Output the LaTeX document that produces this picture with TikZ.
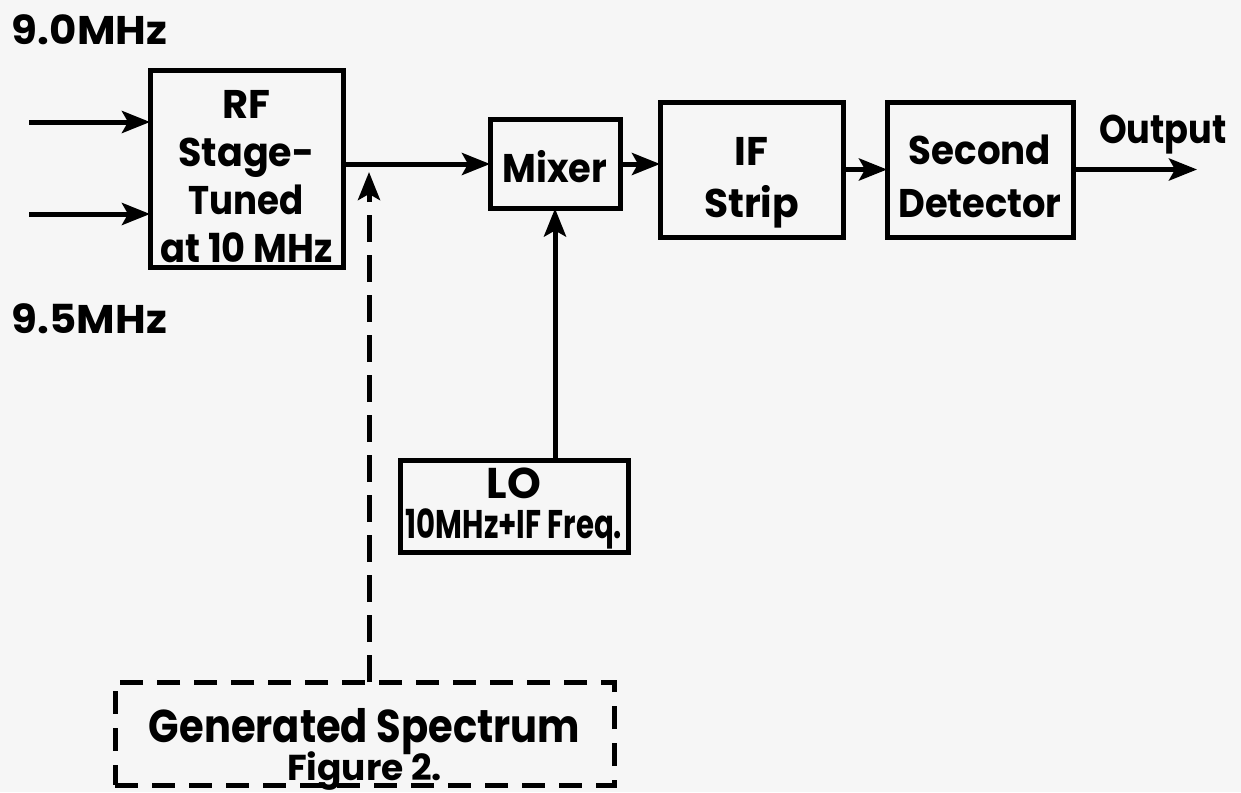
\documentclass[tikz,border=0pt]{standalone}
\usepackage{fontspec}
\setmainfont{Poppins}
\usetikzlibrary{arrows.meta}
\definecolor{bg}{RGB}{246,246,246}
\newcommand\lettering[2]{\fontsize{#1}{#2}\selectfont\bfseries\lineskiplimit=-100pt\relax}
\newcommand\sqz[2]{\scalebox{#1}[1]{#2}}
\begin{document}
\begin{tikzpicture}[x=1pt,y=-1pt,
  every node/.style={inner sep=0pt, outer sep=0pt},
  blk/.style={draw, line width=5pt, align=center},
  arr/.style={line width=5pt, -{Stealth[length=28pt,width=22pt,inset=6pt]}},
  dsh/.style={dash pattern=on 27pt off 13pt},
  bdsh/.style={dash pattern=on 23pt off 14pt},
]
\path[fill=bg] (0,0) rectangle (1241,792);
\useasboundingbox (0,0) rectangle (1241,792);

\node[blk, font=\lettering{40}{48}, minimum width=193pt, minimum height=197pt,
      text height=188.5pt, text depth=1.5pt] (rf) at (246.5,168.5)
  {RF\\\sqz{0.95}{Stage-}\\\sqz{0.89}{Tuned}\\\sqz{0.92}{at 10 MHz}};
\node[blk, font=\lettering{40}{48}, minimum width=130pt, minimum height=89pt,
      text height=48pt, text depth=12pt] (mixer) at (555,164) {\sqz{0.92}{Mixer}};
\node[blk, font=\lettering{40}{52}, minimum width=183pt, minimum height=135pt,
      text height=107.5pt, text depth=12.5pt] (ifs) at (751.5,169.5) {IF\\\sqz{0.98}{Strip}};
\node[blk, font=\lettering{40}{53}, minimum width=186pt, minimum height=135pt,
      text height=107.5pt, text depth=12.5pt] (sd) at (980,169.5) {\sqz{0.93}{Second}\\\sqz{0.92}{Detector}};
\node[blk, font=\lettering{40}{40}, minimum width=228pt, minimum height=92pt,
      text height=72pt, text depth=8pt] (lo) at (514,506)
  {{\fontsize{43}{40}\selectfont LO}\\\sqz{0.73}{10MHz+IF Freq.}};
\node[blk, bdsh, font=\lettering{36}{38}, minimum width=499pt, minimum height=103pt,
      text height=96.5pt, text depth=3.5pt] (gen) at (364.5,733.5)
  {\sqz{0.87}{\fontsize{46}{38}\selectfont Generated Spectrum}\\Figure 2.};

\node[anchor=base west, font=\lettering{40}{48}] (f90) at (12,45) {\sqz{1.05}{9.0MHz}};
\node[anchor=base west, font=\lettering{40}{48}] (f95) at (12,333) {\sqz{1.05}{9.5MHz}};
\node[anchor=base, font=\lettering{40}{48}] (outl) at (1163,143) {\sqz{0.88}{Output}};

\coordinate (in1) at (29,122);
\coordinate (in2) at (29,214);
\coordinate (outp) at (1197,169.5);
\coordinate (dtip) at (369,172);

\draw[arr] (in1) -- (in1 -| rf.west);
\draw[arr] (in2) -- (in2 -| rf.west);
\draw[arr] (rf.east |- mixer.west) -- (mixer.west);
\draw[arr] (mixer.east) -- (mixer.east -| ifs.west);
\draw[arr] (ifs.east) -- (sd.west);
\draw[arr] (sd.east) -- (outp);
\draw[arr] (mixer.south |- lo.north) -- (mixer.south);
\draw[arr, dsh] (dtip |- gen.north) -- (dtip);
\end{tikzpicture}
\end{document}
